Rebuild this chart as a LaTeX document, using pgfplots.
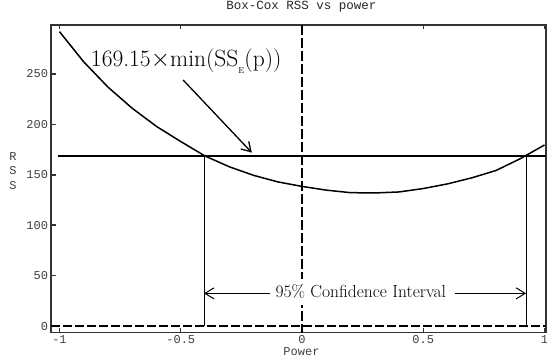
\documentclass[border=0pt]{standalone}
\usepackage{fontspec}
\setmonofont{Liberation Mono}
\usepackage{pgfplots}
\pgfplotsset{compat=1.18}
\usetikzlibrary{arrows.meta}
\begin{document}
\begin{tikzpicture}
\path[use as bounding box] (-51pt,-24.3pt) rectangle (496pt,332.7pt);
\begin{axis}[
  at={(0,0)}, anchor=south west,
  scale only axis, width=495pt, height=307.7pt,
  xmin=-1.035, xmax=1.006, ymin=-6.6, ymax=298.6,
  axis line style={line width=1.2pt, black!80},
  xtick={-1,-0.5,0,0.5,1}, xticklabels={-1,-0.5,0,0.5,1},
  ytick={0,50,100,150,200,250}, yticklabels={0,50,100,150,200,250},
  tick align=inside, xtick pos=both, ytick pos=left,
  major tick length=4.5pt,
  every tick/.style={black!80, line width=1pt},
  ytick style={line width=1.5pt},
  ticklabel style={font=\ttfamily\fontsize{12}{12}\selectfont, text=black!75},
  xticklabel style={anchor=base, yshift=-10.6pt, inner sep=0pt},
  yticklabel style={anchor=east, inner sep=0pt, xshift=-2.7pt},
  title={Box-Cox RSS vs power},
  title style={at={(rel axis cs:0.506,1)}, anchor=base, yshift=9.8pt, inner sep=0pt, font=\ttfamily\fontsize{12.5}{13}\selectfont, text=black!85},
  xlabel={Power},
  xlabel style={at={(rel axis cs:0.506,0)}, anchor=base, yshift=-22.5pt, inner sep=0pt, font=\ttfamily\fontsize{12}{12}\selectfont, text=black!75},
  ylabel={R\\S\\S},
  ylabel style={at={(rel axis cs:0,0.5255)}, rotate=-90, anchor=center, xshift=-38pt, align=center, inner sep=0pt, font=\ttfamily\fontsize{12}{14.5}\selectfont, text=black!75},
]
\addplot[line width=2.5pt, dash pattern=on 9pt off 3pt] coordinates {(-1.035,0) (1.006,0)};
\addplot[line width=2.5pt, dash pattern=on 10pt off 3pt] coordinates {(0,298.6) (0,-6.6)};
\addplot[black, line width=1.5pt] coordinates {
(-1,292) (-0.9,262) (-0.8,237) (-0.7,216) (-0.6,198) (-0.5,183) (-0.4,168.7)
(-0.3,158) (-0.2,149.5) (-0.1,143) (0,138.5) (0.1,134.8) (0.2,132.3) (0.3,132)
(0.4,133) (0.5,136.4) (0.6,141) (0.7,147) (0.8,154.3) (0.9,166) (1,179.6)};
\addplot[black, line width=2pt] coordinates {(-1.007,169.15) (1.006,169.15)};
\addplot[black, line width=1pt] coordinates {(-0.404,0) (-0.404,169.15)};
\addplot[black, line width=1pt] coordinates {(0.924,0) (0.924,169.15)};
\addplot[black, line width=1.3pt, -{Straight Barb[length=9pt,width=11pt,line width=1.3pt]}] coordinates {(-0.49,244) (-0.207,172)};
\addplot[black, line width=1pt, -{Straight Barb[length=9pt,width=11pt,line width=1pt]}] coordinates {(-0.132,32.4) (-0.404,32.4)};
\addplot[black, line width=1pt, -{Straight Barb[length=9pt,width=11pt,line width=1pt]}] coordinates {(0.631,32.4) (0.924,32.4)};
\node[anchor=base west, inner sep=0pt, font=\fontsize{23.5}{23.5}\selectfont] at (axis cs:-0.871,257)
  {169.15$\times$min(SS\raisebox{-7pt}{\fontsize{8.5}{8.5}\selectfont E}(p))};
\node[anchor=base, fill=white, inner xsep=1.5pt, inner ysep=6pt, font=\fontsize{17.5}{17.5}\selectfont] at (axis cs:0.2427,28.1)
  {95\% Confidence Interval};
\end{axis}
\end{tikzpicture}
\end{document}
